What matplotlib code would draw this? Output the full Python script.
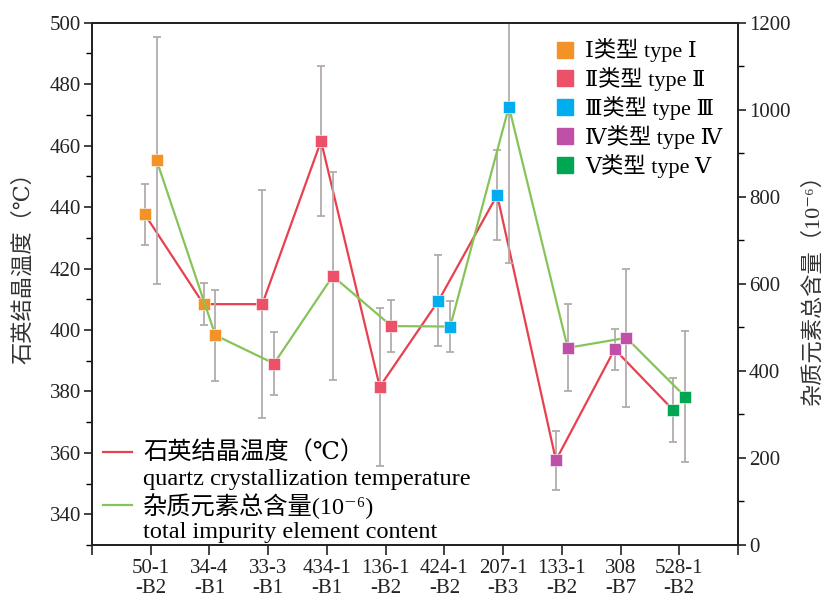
import numpy as np
import matplotlib
matplotlib.use('Agg')
import matplotlib.pyplot as plt
from matplotlib.lines import Line2D
from matplotlib.ticker import MultipleLocator
import matplotlib.transforms as mtrans

plt.rcParams['font.family'] = ['Liberation Serif', 'DejaVu Serif', 'Noto Sans CJK SC']

# samples and their type (0..4 -> I..V)
samples = ['50-1\n-B2', '34-4\n-B1', '33-3\n-B1', '434-1\n-B1', '136-1\n-B2',
           '424-1\n-B2', '207-1\n-B3', '133-1\n-B2', '308\n-B7', '528-1\n-B2']
sample_type = [0, 0, 1, 1, 1, 2, 2, 3, 3, 4]

# quartz crystallization temperature (C) and std
temp = [437.6, 408.4, 408.4, 461.5, 381.5, 409.5, 443.9, 357.6, 393.7, 373.9]
temp_err = [9.8, 6.8, 37.0, 24.3, 25.7, 14.8, 14.7, 9.6, 6.7, 10.3]

# total impurity element content (10^-6) and std
imp = [884, 482, 417, 618, 503, 502, 1007, 453, 476, 341]
imp_err = [284, 105, 73, 239, 59, 59, 358, 100, 158, 151]

type_names = ['Ⅰ类型 type Ⅰ', 'Ⅱ类型 type Ⅱ', 'Ⅲ类型 type Ⅲ', 'Ⅳ类型 type Ⅳ', 'Ⅴ类型 type Ⅴ']
type_colors = ['#f39327', '#ec5169', '#00aeef', '#c04fa8', '#00a651']

red = '#e8404f'
green = '#86c45a'
grey = '#b3abab'

x = np.arange(1, len(samples) + 1)
xt = x - 0.1
xi = x + 0.1

fig = plt.figure(figsize=(8.26, 5.98), dpi=100)
ax = fig.add_axes([0.1114, 0.0886, 0.782, 0.8734])
ax2 = ax.twinx()

# temperature
ax.errorbar(xt, temp, yerr=temp_err, fmt='none', ecolor=grey, elinewidth=1.3,
            capsize=3, capthick=1.3, zorder=1)
ax.plot(xt, temp, color=red, lw=1.6, zorder=2)
for xx, yy, t in zip(xt, temp, sample_type):
    ax.plot(xx, yy, marker='s', ms=9, color=type_colors[t], mec='white', mew=0.4, zorder=3)

# impurity
ax2.errorbar(xi, imp, yerr=imp_err, fmt='none', ecolor=grey, elinewidth=1.3,
             capsize=3, capthick=1.3, zorder=1)
ax2.plot(xi, imp, color=green, lw=1.6, zorder=2)
for xx, yy, t in zip(xi, imp, sample_type):
    ax2.plot(xx, yy, marker='s', ms=9, color=type_colors[t], mec='white', mew=0.4, zorder=3)

ax.set_xlim(0, 11)
ax.set_ylim(330, 500)
ax2.set_ylim(0, 1200)

ax.set_xticks(np.arange(0, 12))
ax.set_xticklabels([''] + samples + [''], fontsize=15, linespacing=1.1)
off = mtrans.ScaledTranslation(-0.08, 0, fig.dpi_scale_trans)
for lab in ax.get_xticklabels():
    lab.set_transform(lab.get_transform() + off)

ax.set_yticks(np.arange(340, 501, 20))
ax.yaxis.set_minor_locator(MultipleLocator(10))
ax2.set_yticks(np.arange(0, 1201, 200))
ax2.yaxis.set_minor_locator(MultipleLocator(100))

ax.tick_params(axis='y', which='major', direction='out', length=6, width=1.2,
               labelsize=15, colors='#222222', pad=2)
ax.tick_params(axis='y', which='minor', direction='out', length=4, width=1.0)
ax.tick_params(axis='x', which='major', direction='out', length=7, width=1.2,
               labelsize=15, colors='#222222', pad=3)
ax2.tick_params(axis='y', which='major', direction='out', length=6, width=1.2,
                labelsize=15, colors='#222222', pad=2)
ax2.tick_params(axis='y', which='minor', direction='out', length=4, width=1.0)

for a in (ax, ax2):
    for s in a.spines.values():
        s.set_linewidth(1.3)
        s.set_color('#222222')

ax.set_ylabel('石英结晶温度（℃）', fontsize=16, color='#333333')
ax.yaxis.set_label_coords(-0.09, 0.54)
ax2.set_ylabel('杂质元素总含量（10⁻⁶）', fontsize=16, color='#333333')
ax2.yaxis.set_label_coords(1.1, 0.5)

# type legend
h1 = [Line2D([], [], ls='none', marker='s', ms=11, color=c) for c in type_colors]
leg1 = ax2.legend(h1, type_names, loc='upper right', bbox_to_anchor=(1.0, 1.0),
                  frameon=False, fontsize=16, handlelength=0.8, handletextpad=0.5,
                  labelspacing=0.22, borderaxespad=0.3)
ax2.add_artist(leg1)

# line legend
h2 = [Line2D([], [], color=red, lw=1.6), Line2D([], [], color='none'),
      Line2D([], [], color=green, lw=1.6), Line2D([], [], color='none')]
l2 = ['石英结晶温度（℃）', 'quartz crystallization temperature',
      '杂质元素总含量(10⁻⁶)', 'total impurity element content']
ax2.legend(h2, l2, loc='lower left', bbox_to_anchor=(0.0, -0.018), frameon=False,
           fontsize=17.5, handlelength=1.2, handletextpad=0.45, labelspacing=0.12,
           borderaxespad=0.05)

fig.savefig('out.png', dpi=100)
